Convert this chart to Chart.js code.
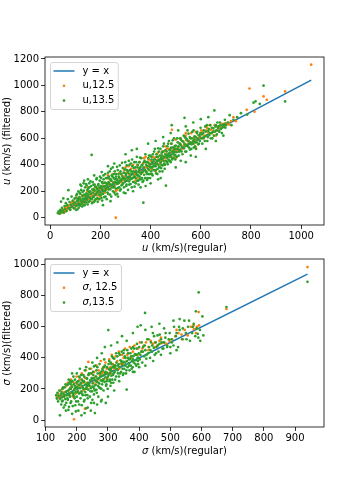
<!DOCTYPE html>
<html>
<head>
<meta charset="utf-8">
<script src="https://cdn.jsdelivr.net/npm/chart.js@4.4.0/dist/chart.umd.min.js"></script>
<style>
  html, body { margin: 0; padding: 0; background: #fff; }
  #wrap { position: relative; width: 360px; height: 480px; overflow: hidden; }
  canvas { position: absolute; left: 0; }
  #c1 { top: 0; }
  #c2 { top: 235px; }
</style>
</head>
<body>
<div id="wrap">
  <canvas id="c1" width="360" height="260"></canvas>
  <canvas id="c2" width="360" height="245"></canvas>
</div>
<script>
// Scatter of filtered vs regular values, two panels (u and sigma).
// Point pairs are [regular, filtered].

const U_TICKS_X = [0, 200, 400, 600, 800, 1000];
const U_TICKS_Y = [0, 200, 400, 600, 800, 1000, 1200];
const S_TICKS_X = [100, 200, 300, 400, 500, 600, 700, 800, 900];
const S_TICKS_Y = [0, 200, 400, 600, 800, 1000];

// u, 12.5 (orange)
const U_125 = [
  [32,38],[36,45],[40,32],[44,55],[48,40],[52,62],[56,50],[60,80],[64,58],[68,72],[72,90],[76,68],[80,95],[85,110],[90,82],
  [95,120],[100,105],[105,92],[110,130],[115,115],[120,150],[125,118],[130,140],[135,165],[140,128],[145,160],[150,175],
  [155,140],[160,190],[165,165],[170,210],[175,180],[180,200],[185,170],[190,225],[195,195],[200,215],[205,185],[210,240],
  [215,210],[220,235],[225,260],[230,215],[235,250],[240,280],[245,240],[250,265],[255,230],[261,0],[262,290],[268,255],
  [274,300],[280,270],[286,320],[292,285],[298,310],[304,340],[310,295],[316,325],[322,370],[328,335],[334,310],[340,360],
  [346,395],[352,345],[358,375],[364,350],[370,410],[376,380],[382,345],[388,420],[394,395],[400,430],[406,380],[412,420],
  [418,455],[424,410],[430,440],[436,470],[442,430],[448,465],[454,500],[460,450],[466,480],[472,520],[478,490],[484,455],
  [485,665],[490,510],[496,540],[502,505],[510,530],[518,560],[526,520],[534,555],[542,585],[550,560],[558,600],[566,570],
  [574,605],[582,590],[590,625],[598,610],[606,645],[614,620],[622,660],[630,640],[640,665],[650,655],[660,690],[670,675],
  [680,700],[690,690],[700,715],[712,705],[740,730],[783,816],[794,977],[814,801],[850,917],[863,892],[936,955],[1040,1157],
  [58,45],[66,90],[78,60],[88,120],[98,75],[108,150],[118,100],[128,170],[138,110],[148,200],[158,150],[168,120],[178,230],
  [188,190],[198,160],[208,270],[218,190],[228,300],[238,220],[248,330],[258,260],[266,210],[276,340],[284,270],[294,360],
  [302,280],[312,390],[320,300],[330,400],[338,330],[348,300],[356,420],[366,340],[374,450],[384,380],[392,440],[402,370],
  [410,460],[420,400],[428,490],[438,410],[446,500],[456,430],[464,520],[474,460],[482,560],[492,480],[500,590],[508,500],
  [520,600],[530,540],[540,620],[552,580],[562,640],[572,560],[580,650],[592,600],[602,660],[612,600],[625,680],[635,700],
  [645,640],[655,700],[665,660],[675,690],[685,710],[695,700],[705,710],[720,730],[730,760],
  [150,230],[190,140],[230,320],[260,200],[300,380],[340,280],[380,460],[420,350],[460,540],[500,450],[540,640],[580,530],
  [620,690],[660,620]
];

// u, 13.5 (green)
const U_135 = [
  [30,35],[34,48],[37,30],[40,60],[43,121],[44,42],[47,75],[50,55],[52,146],[54,38],[57,88],[60,66],[62,110],[65,50],
  [68,95],[70,140],[72,208],[74,72],[77,118],[80,60],[82,98],[85,160],[87,80],[90,130],[92,105],[95,70],[97,145],[99,112],
  [102,88],[104,170],[106,125],[108,62],[110,140],[112,200],[114,105],[116,155],[118,90],[120,180],[122,130],[124,240],
  [126,110],[128,165],[130,145],[132,95],[134,205],[136,175],[138,120],[140,150],[142,255],[144,185],[146,135],[148,210],
  [150,165],[152,118],[154,195],[156,230],[158,150],[160,275],[162,180],[165,475],[166,140],[168,215],[170,190],[172,250],
  [174,160],[176,205],[178,130],[180,235],[182,180],[184,290],[186,215],[188,150],[190,200],[192,255],[194,175],[196,225],
  [198,310],[200,190],[202,240],[204,150],[206,270],[208,215],[210,180],[212,320],[214,235],[216,200],[218,265],[220,160],
  [222,300],[224,225],[226,250],[228,190],[230,340],[232,270],[234,215],[236,295],[238,175],[240,250],[242,370],[244,280],
  [246,230],[248,310],[250,200],[252,265],[254,330],[256,240],[258,290],[260,175],[262,310],[264,255],[266,385],[268,280],
  [270,225],[272,330],[274,265],[276,300],[278,205],[280,350],[282,280],[284,245],[286,415],[288,310],[290,260],[292,340],
  [294,230],[296,295],[298,365],[300,280],[302,320],[304,250],[306,360],[308,300],[310,210],[312,335],[314,275],[316,400],
  [318,310],[320,255],[322,350],[324,295],[326,440],[328,330],[330,270],[332,375],[334,310],[336,235],[338,345],[340,300],
  [342,420],[344,330],[346,280],[348,380],[350,320],[352,250],[354,365],[356,310],[358,455],[360,340],[362,290],[364,395],
  [366,345],[368,270],[371,114],[372,380],[374,325],[376,430],[378,360],[380,300],[382,400],[384,345],[386,285],[388,420],
  [390,370],[392,330],[394,470],[396,385],[398,300],[400,405],[402,350],[404,440],[406,380],[408,320],[410,425],[412,395],
  [414,500],[416,360],[418,440],[420,390],[422,335],[424,460],[426,410],[428,370],[430,525],[432,430],[434,385],[436,350],
  [438,470],[440,420],[442,375],[444,490],[446,440],[448,395],[450,540],[452,455],[454,410],[456,370],[458,480],[461,242],
  [462,430],[464,500],[466,455],[468,405],[470,560],[472,470],[474,430],[476,510],[478,460],[480,420],[482,530],[484,700],
  [486,440],[488,585],[490,500],[492,455],[494,520],[496,475],[498,440],[500,545],[503,495],[506,600],[509,520],[512,470],
  [515,560],[518,510],[521,590],[524,535],[527,480],[530,575],[533,525],[535,755],[536,610],[539,545],[542,500],[545,590],
  [548,540],[551,635],[554,560],[557,515],[560,600],[563,555],[566,650],[569,580],[572,530],[575,615],[578,570],[581,520],
  [584,640],[587,590],[590,555],[593,625],[596,580],[599,680],[602,600],[606,560],[610,640],[614,610],[618,690],[622,620],
  [626,580],[630,655],[634,625],[638,700],[642,640],[646,600],[650,675],[654,811],[656,650],[660,700],[664,630],[668,680],
  [672,655],[676,720],[680,670],[684,640],[688,700],[692,690],[696,740],[700,700],[708,720],[715,775],[722,700],[730,740],
  [745,760],[760,790],[785,780],[810,870],[818,880],[835,860],[850,998],[936,879],
  [101,150],[103,60],[107,180],[109,95],[111,128],[113,75],[117,190],[119,140],[121,100],[123,210],[127,85],[129,195],
  [131,120],[133,260],[135,140],[137,95],[139,230],[141,170],[143,115],[145,245],[147,160],[149,100],[151,220],[153,175],
  [155,260],[157,125],[159,200],[161,145],[163,240],[167,110],[169,270],[171,155],[173,215],[175,120],[177,250],[179,175],
  [181,140],[183,230],[185,300],[187,190],[189,120],[191,245],[193,205],[195,140],[197,280],[199,230],[201,170],[203,300],
  [205,225],[207,130],[209,260],[211,200],[213,290],[215,155],[217,240],[219,330],[221,210],[223,260],[225,140],[227,300],
  [229,235],[231,180],[233,310],[235,260],[237,350],[239,215],[241,290],[243,160],[245,320],[247,250],[249,380],[251,230],
  [253,300],[255,190],[257,350],[259,270],[261,220],[263,330],[265,290],[267,180],[269,360],[271,260],[273,310],[275,230],
  [277,395],[279,280],[281,215],[283,330],[285,290],[287,250],[289,375],[291,300],[293,190],[295,340],[297,270],[299,420],
  [301,330],[303,240],[305,395],[307,280],[309,350],[311,300],[313,430],[315,250],[317,360],[319,290],[321,410],[323,330],
  [325,230],[327,390],[329,300],[331,350],[333,270],[335,420],[337,310],[339,380],[341,260],[343,350],[345,460],[347,320],
  [349,400],[351,280],[353,345],[355,420],[357,290],[359,380],[361,330],[363,450],[365,300],[367,400],[369,350],[371,280],
  [373,420],[375,360],[377,300],[379,480],[381,350],[383,420],[385,330],[387,390],[389,300],[391,450],[393,360],[395,410],
  [397,330],[399,470],[401,380],[403,460],[405,330],[407,420],[409,480],[411,360],[413,440],[415,390],[417,520],[419,410],
  [421,360],[423,480],[425,430],[427,330],[429,460],[431,400],[433,500],[435,440],[437,380],[439,520],[441,450],[443,400],
  [445,470],[447,350],[449,500],[451,430],[453,560],[455,460],[457,400],[459,510],[463,470],[465,420],[467,540],[469,480],
  [471,440],[473,580],[475,490],[477,430],[479,520],[481,470],[483,560],[485,500],[487,450],[489,530],[491,480],[493,600],
  [495,500],[497,540],[499,470],[502,520],[505,460],[508,570],[511,540],[514,500],[517,600],[520,550],[523,500],[526,580],
  [529,530],[532,620],[535,560],[538,500],[541,600],[544,550],[547,660],[550,580],[553,530],[556,610],[559,570],[562,520],
  [565,600],[568,560],[571,660],[574,590],[577,540],[580,610],[583,570],[586,650],[589,600],[592,560],[595,620],[598,640],
  [604,630],[608,600],[612,660],[616,580],[620,650],[624,700],[628,610],[632,670],[636,640],[640,600],[644,680],[648,650],
  [652,620],[658,690],[662,660],[666,720],[670,690],[674,650],[678,700],[686,680],[694,710],[698,680],
  [120,250],[135,280],[150,290],[175,320],[205,345],[230,390],[255,410],[300,480],[325,510],[345,520],[390,560],[420,580],
  [450,610],[480,640],[510,660],[540,690],[570,720],[600,745],[630,760],[210,95],[240,125],[270,160],[300,185],[330,200],
  [360,230],[400,260],[430,290],[500,380],[540,420],[580,460],[620,520],[660,580],[690,620],[560,470],[520,430],[440,300],
  [380,240]
];

// sigma, 12.5 (orange)
const S_125 = [
  [136,150],[140,170],[143,140],[147,190],[150,160],[153,200],[157,150],[160,180],[164,215],[167,160],[171,240],[174,190],
  [178,170],[181,260],[184,215],[187,150],[191,5],[192,240],[195,200],[199,280],[202,230],[205,180],[209,260],[212,210],
  [216,300],[219,240],[222,190],[226,73],[226,270],[229,320],[233,240],[237,374],[239,290],[242,220],[246,330],[249,270],
  [253,240],[256,310],[260,280],[263,350],[267,260],[270,320],[274,290],[277,380],[281,300],[285,340],[288,265],[292,370],
  [296,330],[300,300],[304,390],[308,340],[312,420],[316,360],[320,330],[325,410],[330,380],[335,440],[340,360],[345,420],
  [350,400],[355,460],[360,380],[365,430],[370,470],[375,400],[380,440],[385,480],[390,420],[396,460],[402,500],[408,440],
  [415,480],[422,500],[430,470],[437,510],[444,490],[451,500],[458,480],[465,510],[472,495],[480,500],[488,490],[497,510],
  [506,520],[516,540],[526,560],[536,550],[546,580],[556,545],[566,600],[576,585],[586,600],[591,695],[592,610],[680,715],
  [940,985],
  [180,210],[196,170],[208,225],[222,250],[235,200],[248,300],[260,230],[272,270],[285,310],[298,270],[310,300],[323,350],
  [336,330],[348,360],[362,420],[378,380],[395,420],[410,460],[430,450],[450,470],[470,530],[520,580],[540,520],[575,610],
  [582,560]
];

// sigma, 13.5 (green)
const S_135 = [
  [134,160],[136,140],[138,175],[140,120],[142,155],[144,190],[146,30],[147,135],[149,165],[150,100],[152,145],[154,200],
  [155,125],[157,170],[158,80],[160,150],[161,210],[163,135],[165,180],[166,110],[168,160],[169,225],[170,140],[172,190],
  [173,65],[175,170],[176,240],[178,150],[179,252],[181,200],[182,120],[184,175],[185,215],[187,90],[188,160],[190,230],
  [191,195],[193,140],[194,260],[196,180],[197,55],[199,210],[200,150],[201,245],[203,190],[204,120],[206,225],[207,170],
  [209,275],[210,205],[212,140],[213,240],[215,185],[216,95],[218,220],[219,160],[221,290],[222,200],[224,245],[225,130],
  [227,180],[228,230],[230,75],[231,210],[233,265],[234,160],[236,240],[237,195],[239,300],[240,220],[242,150],[243,255],
  [245,205],[246,110],[248,270],[249,185],[251,235],[252,310],[254,215],[255,165],[257,260],[258,45],[260,225],[262,280],
  [263,195],[265,245],[266,340],[268,220],[269,150],[271,270],[272,235],[274,300],[275,205],[277,255],[278,120],[280,285],
  [281,230],[283,320],[284,260],[286,190],[287,290],[289,245],[290,350],[292,275],[293,110],[295,230],[296,305],[298,260],
  [299,200],[301,579],[302,290],[303,330],[305,250],[306,300],[308,220],[309,370],[311,285],[312,315],[314,260],[315,340],
  [317,240],[318,300],[320,395],[322,310],[324,350],[326,280],[328,330],[330,410],[332,300],[334,360],[336,250],[338,340],
  [340,385],[342,310],[344,440],[346,355],[348,290],[350,375],[352,330],[354,410],[356,350],[358,300],[360,196],[361,380],
  [363,340],[365,430],[367,365],[369,320],[371,395],[373,350],[375,460],[377,380],[379,340],[381,410],[383,370],[385,310],
  [387,425],[389,385],[391,350],[393,490],[395,400],[397,360],[399,430],[402,390],[405,610],[407,440],[410,370],[413,470],
  [416,410],[419,690],[420,450],[423,395],[426,520],[429,430],[432,470],[435,400],[438,500],[441,440],[444,560],[447,465],
  [450,420],[453,500],[456,470],[459,545],[462,440],[465,490],[470,520],[475,460],[480,500],[485,560],[490,480],[495,520],
  [500,430],[505,500],[512,600],[518,540],[525,470],[530,580],[538,520],[545,640],[550,560],[557,600],[563,510],[570,560],
  [575,620],[580,540],[584,590],[588,555],[591,822],[596,510],[603,667],[606,545],[680,728],[940,890],
  [151,180],[153,120],[156,210],[159,160],[162,95],[164,230],[167,185],[171,130],[174,260],[177,200],[180,110],[183,245],
  [186,180],[189,280],[192,150],[195,220],[198,120],[200,300],[202,180],[205,250],[208,100],[211,230],[214,290],[217,170],
  [220,250],[223,120],[226,320],[229,200],[232,270],[235,140],[238,230],[241,330],[244,185],[247,260],[250,130],[253,290],
  [256,200],[259,350],[261,250],[264,175],[267,300],[270,240],[273,360],[276,280],[279,200],[282,330],[285,260],[288,390],
  [291,300],[294,220],[297,340],[300,280],[304,380],[307,260],[310,330],[313,410],[316,290],[319,350],[323,260],[327,370],
  [331,320],[335,430],[339,300],[343,380],[347,330],[351,450],[355,370],[359,320],[364,400],[368,350],[372,430],[376,330],
  [380,390],[384,460],[388,360],[392,420],[396,380],[400,470],[404,420],[408,500],[412,440],[418,480],[424,420],[430,520],
  [436,450],[442,480],[448,540],[454,430],[460,480],[466,550],[472,500],[478,460],[484,530],[490,470],[498,560],[504,520],
  [510,480],[520,560],[528,600],[540,590],[552,520],[560,640],[572,600],[582,700],[590,530],[595,580],
  [165,60],[185,40],[175,85],[205,60],[195,95],[235,80],[245,60],[265,100],[215,30],[225,45],[255,110],[300,150],
  [320,190],[280,130],
  [172,230],[176,160],[181,230],[186,250],[190,170],[194,205],[199,240],[203,210],[207,280],[211,175],[216,260],[220,205],
  [224,280],[228,160],[233,220],[237,290],[241,240],[246,300],[250,215],[254,270],[258,190],[263,320],[268,265],[272,210],
  [277,310],[282,250],[287,340],[292,310],[296,250],[302,360],[306,320],[311,360],[316,400],[321,340],[326,430],[332,350],
  [338,420],[344,370],[350,430],[356,400],[362,450],[368,390],[374,410],[380,470],[386,420],[392,460],[398,400],
  [250,370],[265,400],[280,430],[290,470],[310,480],[330,500],[345,540],[360,510],[380,560],[395,600],[420,580],[440,600],
  [465,620],[480,590],[510,640],[530,650],[255,345],[230,340],[210,330],[185,300],
  [310,240],[335,280],[350,300],[380,310],[400,340],[420,350],[445,380],[470,420],[500,470],[520,450]
];

const FONT = "'DejaVu Sans', 'Liberation Sans', sans-serif";
const BLUE = "#1f77b4", ORANGE = "#ff7f0e", GREEN = "#2ca02c";

// text runs: [string, italic?]
function drawRuns(ctx, runs, x, y, rotate) {
  ctx.save();
  ctx.translate(x, y);
  if (rotate) ctx.rotate(-Math.PI / 2);
  ctx.fillStyle = "#000";
  ctx.textBaseline = "middle";
  ctx.textAlign = "left";
  const fontOf = (it) => `${it ? "italic " : ""}10px ${FONT}`;
  let total = 0;
  for (const [t, it] of runs) { ctx.font = fontOf(it); total += ctx.measureText(t).width; }
  let cx = -total / 2;
  for (const [t, it] of runs) {
    ctx.font = fontOf(it);
    ctx.fillText(t, cx, 0);
    cx += ctx.measureText(t).width;
  }
  ctx.restore();
}

function panelPlugin(xTitle, yTitle, xTitleY, legendRows) {
  return {
    id: "panel",
    afterDatasetsDraw(chart) {
      const { ctx, chartArea: a } = chart;
      // legend box, upper left like matplotlib's "best"
      ctx.save();
      let tw = 0;
      for (const r of legendRows) {
        let w = 0;
        for (const [t, it] of r.runs) { ctx.font = `${it ? "italic " : ""}10px ${FONT}`; w += ctx.measureText(t).width; }
        tw = Math.max(tw, w);
      }
      const bx = a.left + 5.5, by = a.top + 5.5, bw = 33 + tw + 3, bh = 47;
      ctx.beginPath();
      ctx.roundRect(bx, by, bw, bh, 2.5);
      ctx.fillStyle = "rgba(255,255,255,0.8)";
      ctx.fill();
      ctx.strokeStyle = "#d4d4d4";
      ctx.lineWidth = 1;
      ctx.stroke();
      legendRows.forEach((r, i) => {
        const ry = by + 8.5 + i * 14.8;
        if (r.line) {
          ctx.beginPath();
          ctx.moveTo(bx + 3, ry);
          ctx.lineTo(bx + 24, ry);
          ctx.strokeStyle = r.color;
          ctx.lineWidth = 1.5;
          ctx.stroke();
        } else {
          ctx.beginPath();
          ctx.arc(bx + 13.5, ry, 1.3, 0, Math.PI * 2);
          ctx.fillStyle = r.color;
          ctx.fill();
        }
        ctx.fillStyle = "#000";
        ctx.textBaseline = "middle";
        let cx = bx + 32;
        for (const [t, it] of r.runs) {
          ctx.font = `${it ? "italic " : ""}10px ${FONT}`;
          ctx.fillText(t, cx, ry);
          cx += ctx.measureText(t).width;
        }
      });
      ctx.restore();
    },
    afterDraw(chart) {
      const { ctx, chartArea: a } = chart;
      ctx.save();
      ctx.strokeStyle = "#000";
      ctx.lineWidth = 0.8;
      ctx.strokeRect(a.left, a.top, a.right - a.left, a.bottom - a.top);
      ctx.restore();
      drawRuns(ctx, xTitle, (a.left + a.right) / 2, xTitleY, false);
      drawRuns(ctx, yTitle, 7, (a.top + a.bottom) / 2, true);
    },
  };
}

function axis(min, max, ticks, size, pad, isX) {
  return {
    type: "linear",
    min, max,
    afterBuildTicks: (s) => { s.ticks = ticks.map((v) => ({ value: v })); },
    afterFit: (s) => { if (isX) s.height = size; else s.width = size; },
    grid: { drawOnChartArea: false, drawTicks: true, tickLength: 4, color: "#000", lineWidth: 0.8 },
    border: { display: false },
    ticks: {
      color: "#000", padding: pad, maxRotation: 0, autoSkip: false,
      font: { family: FONT, size: 10 },
      callback: (v) => String(v),
    },
  };
}

function makePanel(id, o) {
  const xs = o.green.concat(o.orange).map((p) => p[0]);
  const lo = Math.min(...xs), hi = Math.max(...xs);
  const pts = (arr) => arr.map(([x, y]) => ({ x, y }));
  new Chart(document.getElementById(id), {
    type: "scatter",
    data: {
      datasets: [
        {
          type: "line", label: "y = x", data: [{ x: lo, y: lo }, { x: hi, y: hi }],
          borderColor: BLUE, borderWidth: 1.5, pointRadius: 0, fill: false, order: 3,
        },
        {
          label: o.labels[0], data: pts(o.orange), backgroundColor: ORANGE,
          pointRadius: 1.35, borderWidth: 0, order: 2,
        },
        {
          label: o.labels[1], data: pts(o.green), backgroundColor: GREEN,
          pointRadius: 1.35, borderWidth: 0, order: 1,
        },
      ],
    },
    options: {
      responsive: false,
      animation: false,
      devicePixelRatio: 1,
      layout: { padding: { left: 0, right: 36, top: o.top, bottom: 0 } },
      plugins: { legend: { display: false }, tooltip: { enabled: false } },
      scales: {
        x: axis(o.xr[0], o.xr[1], o.xt, o.xh, 1, true),
        y: axis(o.yr[0], o.yr[1], o.yt, 45, 2, false),
      },
    },
    plugins: [panelPlugin(o.xTitle, o.yTitle, o.xTitleY, [
      { line: true, color: BLUE, runs: [["y = x", false]] },
      { color: ORANGE, runs: o.legend[0] },
      { color: GREEN, runs: o.legend[1] },
    ])],
  });
}

makePanel("c1", {
  orange: U_125, green: U_135, labels: ["u,12.5", "u,13.5"],
  xr: [-21, 1091], yr: [-55, 1215], xt: U_TICKS_X, yt: U_TICKS_Y,
  top: 57, xh: 35, xTitleY: 248,
  xTitle: [["u", true], [" (km/s)(regular)", false]],
  yTitle: [["u", true], [" (km/s) (filtered)", false]],
  legend: [[["u,12.5", false]], [["u,13.5", false]]],
});

makePanel("c2", {
  orange: S_125, green: S_135, labels: ["σ, 12.5", "σ,13.5"],
  xr: [98, 993], yr: [-45, 1037], xt: S_TICKS_X, yt: S_TICKS_Y,
  top: 24, xh: 53, xTitleY: 216,
  xTitle: [["σ", true], [" (km/s)(regular)", false]],
  yTitle: [["σ", true], [" (km/s)(filtered)", false]],
  legend: [[["σ", true], [", 12.5", false]], [["σ", true], [",13.5", false]]],
});
</script>
</body>
</html>
